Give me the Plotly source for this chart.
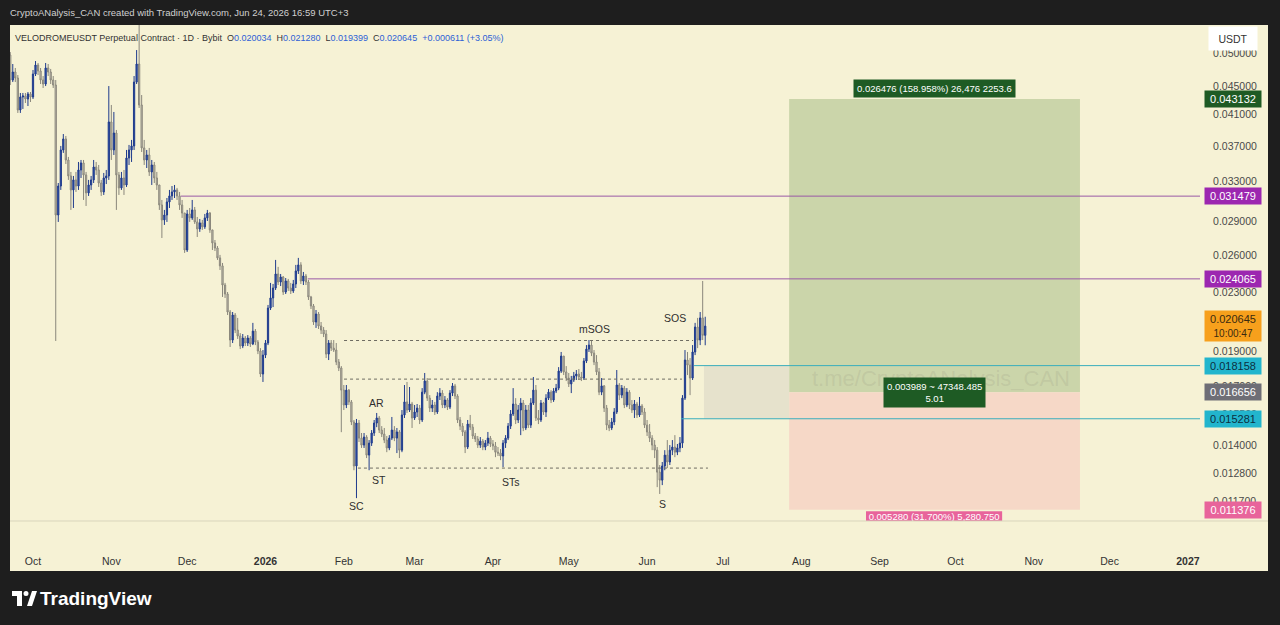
import math
import pandas as pd
import plotly.graph_objects as go

# ---------------- data (prices in 1e-5 USDT units) ----------------
start_date = "2025-09-22"
first_open_e5 = 4977

closes_e5 = [
    4589, 4710, 4619, 4164, 4343, 4357, 4315, 4386, 4343, 4679,
    4818, 4726, 4589, 4530, 4772, 4710, 4589, 4515, 2961, 3253,
    3657, 3790, 3540, 3361, 3212, 3318, 3253, 3427, 3506, 3372,
    3181, 3264, 3318, 3460, 3427, 3285, 3191, 3339, 3361, 4005,
    3657, 3864, 3372, 3233, 3339, 3264, 3563, 3657, 3705, 4559,
    4834, 4232, 3681, 3540, 3598, 3405, 3483, 3339, 3264, 3059,
    2914, 2961, 3089, 3150, 3191, 3212, 3150, 3059, 2980, 2643,
    2971, 2933, 3010, 2895, 2830, 2886, 2849, 2933, 2980, 2821,
    2704, 2660, 2576, 2510, 2359, 2291, 2161, 1973, 2140, 2038,
    1999, 1935, 1986, 1954, 1986, 1948, 2031, 1960, 1904, 1767,
    1879, 1954, 2189, 2262, 2336, 2445, 2382, 2421, 2306, 2390,
    2336, 2314, 2367, 2469, 2518, 2390, 2429, 2382, 2269, 2204,
    2092, 2147, 2065, 2038, 2012, 1885, 1954, 1922, 1910, 1837,
    1802, 1677, 1598, 1677, 1614, 1512, 1311, 1507, 1435, 1403,
    1440, 1358, 1412, 1459, 1507, 1532, 1473, 1454, 1426, 1390,
    1435, 1473, 1435, 1464, 1380, 1547, 1614, 1572, 1603, 1532,
    1562, 1582, 1522, 1666, 1727, 1634, 1582, 1598, 1562, 1645,
    1661, 1598, 1624, 1587, 1661, 1700, 1645, 1522, 1492, 1464,
    1394, 1502, 1487, 1445, 1431, 1403, 1421, 1394, 1412, 1435,
    1408, 1399, 1371, 1367, 1354, 1412, 1435, 1492, 1552, 1603,
    1522, 1572, 1608, 1483, 1572, 1497, 1608, 1677, 1532, 1522,
    1608, 1562, 1634, 1666, 1624, 1672, 1688, 1784, 1873, 1779,
    1744, 1711, 1733, 1756, 1767, 1750, 1744, 1843, 1916, 1941,
    1891, 1837, 1779, 1666, 1700, 1582, 1497, 1483, 1512, 1562,
    1705, 1650, 1688, 1598, 1666, 1598, 1572, 1603, 1547, 1593,
    1562, 1497, 1464, 1435, 1403, 1380, 1285, 1252, 1311, 1358,
    1328, 1380, 1394, 1371, 1390, 1412, 1634, 1849, 1819, 1744,
    1898, 2058, 1973, 2120, 2003.4, 2064.5,
]

highs_e5 = [
    5025, 4834, 4772, 4664, 4400, 4400, 4400, 4414, 4414, 4741,
    4881, 4850, 4772, 4649, 4850, 4834, 4757, 4649, 4589, 3285,
    3705, 3851, 3827, 3575, 3405, 3361, 3405, 3517, 3540, 3540,
    3405, 3318, 3361, 3540, 3517, 3483, 3318, 3394, 3427, 4500,
    4232, 4137, 3902, 3405, 3405, 3427, 3657, 3717, 3778, 4649,
    5058, 5750, 4371, 3778, 3657, 3681, 3540, 3517, 3405, 3264,
    3109, 3010, 3129, 3212, 3253, 3264, 3233, 3191, 3109, 2980,
    3010, 3029, 3109, 3039, 2942, 2923, 2914, 2971, 3010, 2990,
    2821, 2730, 2677, 2601, 2534, 2375, 2306, 2175, 2161, 2154,
    2120, 2018, 2012, 1999, 2005, 1999, 2086, 2045, 1973, 1922,
    1910, 1973, 2211, 2375, 2367, 2559, 2502, 2445, 2429, 2413,
    2406, 2375, 2398, 2518, 2576, 2540, 2461, 2445, 2398, 2277,
    2218, 2175, 2161, 2092, 2058, 2038, 1973, 1973, 1973, 1954,
    1855, 1813, 1705, 1705, 1683, 1624, 1522, 1527, 1522, 1459,
    1459, 1449, 1426, 1473, 1522, 1557, 1542, 1492, 1483, 1445,
    1449, 1537, 1492, 1483, 1473, 1572, 1705, 1722, 1694, 1614,
    1598, 1603, 1598, 1688, 1773, 1744, 1650, 1624, 1614, 1666,
    1688, 1677, 1645, 1634, 1677, 1716, 1711, 1655, 1537, 1507,
    1473, 1522, 1547, 1502, 1459, 1445, 1440, 1431, 1426, 1464,
    1445, 1426, 1417, 1394, 1385, 1426, 1449, 1507, 1572, 1688,
    1634, 1598, 1634, 1624, 1598, 1598, 1634, 1750, 1705, 1572,
    1624, 1614, 1655, 1683, 1677, 1688, 1711, 1807, 1898, 1873,
    1813, 1773, 1756, 1779, 1790, 1796, 1779, 1861, 1941, 1973,
    1967, 1910, 1879, 1802, 1744, 1705, 1598, 1522, 1532, 1582,
    1790, 1716, 1705, 1700, 1688, 1677, 1624, 1624, 1614, 1640,
    1603, 1582, 1522, 1502, 1449, 1426, 1394, 1315, 1328, 1380,
    1426, 1403, 1426, 1449, 1408, 1440, 1650, 1910, 1898, 1861,
    1941, 2086, 2120, 2161, 2390, 2128.0,
]

lows_e5 = [
    4515, 4559, 4559, 4124, 4124, 4178, 4259, 4218, 4273, 4315,
    4649, 4664, 4530, 4472, 4500, 4649, 4530, 4472, 1967, 2895,
    3212, 3622, 3494, 3318, 3010, 3029, 3191, 3212, 3339, 3109,
    3049, 3150, 3212, 3285, 3372, 3243, 3150, 3160, 3274, 3318,
    3540, 3598, 3010, 3160, 3212, 3160, 3243, 3483, 3517, 3657,
    4530, 4191, 3633, 3483, 3449, 3361, 3264, 3285, 3212, 3010,
    2748, 2867, 2895, 3029, 3109, 3129, 3109, 3010, 2933, 2618,
    2626, 2895, 2914, 2876, 2757, 2803, 2821, 2830, 2904, 2794,
    2643, 2634, 2559, 2477, 2269, 2262, 2140, 1929, 1954, 2018,
    1980, 1916, 1922, 1935, 1935, 1929, 1941, 1941, 1885, 1750,
    1722, 1861, 1941, 2175, 2196, 2321, 2359, 2351, 2284, 2291,
    2314, 2291, 2299, 2336, 2445, 2367, 2359, 2359, 2247, 2182,
    2072, 2052, 2045, 2012, 1992, 1861, 1849, 1904, 1898, 1819,
    1784, 1463, 1572, 1582, 1598, 1497, 1293, 1181, 1417, 1390,
    1390, 1345, 1293, 1399, 1445, 1487, 1459, 1440, 1412, 1371,
    1380, 1426, 1421, 1367, 1345, 1371, 1532, 1557, 1562, 1483,
    1522, 1537, 1502, 1512, 1655, 1619, 1562, 1562, 1547, 1552,
    1624, 1582, 1582, 1572, 1577, 1645, 1629, 1507, 1473, 1445,
    1367, 1385, 1473, 1431, 1417, 1390, 1390, 1380, 1380, 1399,
    1394, 1380, 1349, 1354, 1336, 1306, 1390, 1426, 1478, 1542,
    1502, 1507, 1449, 1468, 1473, 1483, 1483, 1598, 1517, 1502,
    1512, 1547, 1537, 1624, 1608, 1614, 1661, 1677, 1773, 1761,
    1727, 1694, 1661, 1722, 1733, 1733, 1727, 1733, 1831, 1898,
    1873, 1819, 1761, 1650, 1650, 1562, 1473, 1468, 1473, 1497,
    1552, 1624, 1634, 1582, 1587, 1577, 1557, 1532, 1532, 1537,
    1547, 1483, 1445, 1417, 1380, 1345, 1224, 1197, 1232, 1293,
    1302, 1315, 1358, 1349, 1358, 1371, 1390, 1624, 1761, 1650,
    1733, 1879, 1922, 1941, 1973, 1939.9,
]

# horizontal levels
level_upper_purple = 0.031479
level_lower_purple = 0.024065
level_cyan_upper = 0.018158
level_cyan_lower = 0.015281
dotted_levels = [0.01970, 0.01738, 0.01302]

# long position tool
pos_target = 0.043132
pos_entry = 0.016656
pos_stop = 0.011376
last_price = 0.020645

price_ticks = [0.050, 0.045, 0.041, 0.037, 0.033, 0.029, 0.026, 0.023,
               0.021, 0.019, 0.017, 0.0155, 0.014, 0.0128, 0.0117]
price_tick_text = [f"{v:.6f}" for v in price_ticks]

month_ticks = ["2025-10-01", "2025-11-01", "2025-12-01", "2026-01-01", "2026-02-01",
               "2026-03-01", "2026-04-01", "2026-05-01", "2026-06-01", "2026-07-01",
               "2026-08-01", "2026-09-01", "2026-10-01", "2026-11-01", "2026-12-01",
               "2027-01-01"]
month_text = ["Oct", "Nov", "Dec", "<b>2026</b>", "Feb", "Mar", "Apr", "May", "Jun",
              "Jul", "Aug", "Sep", "Oct", "Nov", "Dec", "<b>2027</b>"]

wyckoff_labels = ["SC", "ST", "AR", "STs", "mSOS", "SOS", "S"]
wyckoff_dates = ["2026-02-06", "2026-02-15", "2026-02-14", "2026-04-08",
                 "2026-05-11", "2026-06-12", "2026-06-07"]
wyckoff_prices = [0.01151, 0.01252, 0.01608, 0.01244, 0.02045, 0.02120, 0.01158]

# ---------------- build ----------------
closes = [v / 1e5 for v in closes_e5]
highs = [v / 1e5 for v in highs_e5]
lows = [v / 1e5 for v in lows_e5]
opens = [first_open_e5 / 1e5] + closes[:-1]
dates = pd.date_range(start_date, periods=len(closes), freq="D")

FONT = "Liberation Sans, Arial, sans-serif"
CREAM = "#f6f2d5"
DARK = "#1e1e1e"

# pixel helpers for decorations (plot area: x 10..1200, y 25..521)
def px(x):
    return (x - 10) / 1190.0

def py(y):
    return (521 - y) / 496.0

fig = go.Figure()

fig.add_trace(go.Candlestick(
    x=dates, open=opens, high=highs, low=lows, close=closes,
    increasing=dict(line=dict(color="#1f3b8c", width=1), fillcolor="#2c50ad"),
    decreasing=dict(line=dict(color="#8a877c", width=1), fillcolor="#cbc7b7"),
    hoverinfo="skip", showlegend=False,
))

shapes = []
# cream panel incl. price scale and time scale
shapes.append(dict(type="rect", xref="paper", yref="paper", x0=px(10), x1=px(1268),
                   y0=py(571), y1=py(25), fillcolor=CREAM, line=dict(width=0), layer="below"))
# pane separator
shapes.append(dict(type="line", xref="paper", yref="paper", x0=px(10), x1=px(1268),
                   y0=py(521), y1=py(521), line=dict(color="#d9d5bc", width=1)))

# position tool boxes
shapes.append(dict(type="rect", xref="x", yref="y", x0="2026-07-27 05:00", x1="2026-11-19 07:00",
                   y0=pos_entry, y1=pos_target, fillcolor="#cbd5aa", line=dict(width=0), layer="below"))
shapes.append(dict(type="rect", xref="x", yref="y", x0="2026-07-27 05:00", x1="2026-11-19 07:00",
                   y0=pos_stop, y1=pos_entry, fillcolor="#f6d8c7", line=dict(width=0), layer="below"))
# gray range box
shapes.append(dict(type="rect", xref="x", yref="y", x0="2026-06-23 12:00", x1="2026-07-27 05:00",
                   y0=level_cyan_lower, y1=level_cyan_upper, fillcolor="#e6e2cc",
                   line=dict(width=0), layer="below"))
# watermark ring
shapes.append(dict(type="circle", xref="paper", yref="paper", x0=px(835), x1=px(1033),
                   y0=py(349), y1=py(151), line=dict(color="rgba(228,222,165,0.55)", width=7),
                   layer="below"))
shapes.append(dict(type="circle", xref="paper", yref="paper", x0=px(880), x1=px(988),
                   y0=py(304), y1=py(196), line=dict(color="rgba(228,222,165,0.45)", width=2),
                   layer="below"))
# pink stop label background (clipped by pane)
shapes.append(dict(type="rect", xref="x", yref="y", x0="2026-08-26 15:00", x1="2026-10-19 12:00",
                   y0=0.010857, y1=0.01132, fillcolor="#e8649b", line=dict(width=0), layer="below"))

# horizontal lines
far_right = "2027-06-01"
shapes.append(dict(type="line", xref="x", yref="y", x0="2025-11-28 12:00", x1=far_right,
                   y0=level_upper_purple, y1=level_upper_purple, line=dict(color="#9a5aa6", width=1)))
shapes.append(dict(type="line", xref="x", yref="y", x0="2026-01-17 18:00", x1=far_right,
                   y0=level_lower_purple, y1=level_lower_purple, line=dict(color="#9a5aa6", width=1)))
shapes.append(dict(type="line", xref="x", yref="y", x0="2026-06-19 14:00", x1=far_right,
                   y0=level_cyan_upper, y1=level_cyan_upper, line=dict(color="#3aaebc", width=1)))
shapes.append(dict(type="line", xref="x", yref="y", x0="2026-06-14 10:00", x1=far_right,
                   y0=level_cyan_lower, y1=level_cyan_lower, line=dict(color="#3aaebc", width=1)))
dotted_starts = ["2026-02-01 02:00", "2026-02-01 02:00", "2026-02-06 14:00"]
dotted_ends = ["2026-06-19 05:00", "2026-06-14 19:00", "2026-06-25 02:00"]
for lv, a, b in zip(dotted_levels, dotted_starts, dotted_ends):
    shapes.append(dict(type="line", xref="x", yref="y", x0=a, x1=b, y0=lv, y1=lv,
                       line=dict(color="#6e6c62", width=1, dash="dot")))

# TradingView logo mark
shapes.append(dict(type="rect", xref="paper", yref="paper", x0=px(12), x1=px(22), y0=py(596), y1=py(591),
                   fillcolor="#ffffff", line=dict(width=0)))
shapes.append(dict(type="rect", xref="paper", yref="paper", x0=px(17), x1=px(22), y0=py(606), y1=py(591),
                   fillcolor="#ffffff", line=dict(width=0)))
shapes.append(dict(type="circle", xref="paper", yref="paper", x0=px(23.5), x1=px(28.5), y0=py(596), y1=py(591),
                   fillcolor="#ffffff", line=dict(width=0)))
shapes.append(dict(type="path", xref="paper", yref="paper",
                   path=f"M {px(27)} {py(606)} L {px(32)} {py(591)} L {px(37)} {py(591)} L {px(32)} {py(606)} Z",
                   fillcolor="#ffffff", line=dict(width=0)))

# pink label text, clipped to the pane
fig.add_trace(go.Scatter(
    x=["2026-09-22 14:00"], y=[0.01110], mode="text",
    text=["0.005280 (31.700%) 5,280.750"],
    textfont=dict(color="#ffffff", size=9.5, family=FONT),
    cliponaxis=True, hoverinfo="skip", showlegend=False,
))

annotations = []
# header
annotations.append(dict(xref="paper", yref="paper", x=px(8), y=py(12), xanchor="left", yanchor="middle",
                        text="CryptoANalysis_CAN created with TradingView.com, Jun 24, 2026 16:59 UTC+3",
                        showarrow=False, font=dict(color="#d0d0d0", size=9.5, family=FONT)))
# legend
vc = "#2d5fd6"
sp = "\u00a0\u00a0"
legend_text = (
    "VELODROMEUSDT Perpetual Contract \u00b7 1D \u00b7 Bybit" + sp +
    f"O<span style='color:{vc}'>0.020034</span>" + sp +
    f"H<span style='color:{vc}'>0.021280</span>" + sp +
    f"L<span style='color:{vc}'>0.019399</span>" + sp +
    f"C<span style='color:{vc}'>0.020645</span>" + sp +
    f"<span style='color:{vc}'>+0.000611 (+3.05%)</span>"
)
annotations.append(dict(xref="paper", yref="paper", x=px(13), y=py(38), xanchor="left", yanchor="middle",
                        text=legend_text, showarrow=False, font=dict(color="#333333", size=9, family=FONT)))
# USDT box
annotations.append(dict(xref="paper", yref="paper", x=px(1208), y=py(39), xanchor="left", yanchor="middle",
                        text="USDT", showarrow=False, bgcolor="#ffffff", width=42, height=17, borderpad=3,
                        font=dict(color="#333333", size=10.5, family=FONT)))

# price scale labels
axis_labels = [
    (pos_target, "0.043132", "#1e5b24", "#ffffff"),
    (level_upper_purple, "0.031479", "#9c27b0", "#ffffff"),
    (level_lower_purple, "0.024065", "#9c27b0", "#ffffff"),
    (level_cyan_upper, "0.018158", "#22b5cd", "#0c2f3f"),
    (pos_entry, "0.016656", "#6e6e76", "#ffffff"),
    (level_cyan_lower, "0.015281", "#22b5cd", "#0c2f3f"),
    (pos_stop, "0.011376", "#e8649b", "#ffffff"),
]
for price, text, bg, fg in axis_labels:
    annotations.append(dict(xref="paper", yref="y", x=1, y=math.log10(price), xanchor="left",
                            yanchor="middle", xshift=4, text=text, showarrow=False, bgcolor=bg,
                            width=52, borderpad=2, font=dict(color=fg, size=11, family=FONT)))
annotations.append(dict(xref="paper", yref="y", x=1, y=math.log10(last_price), xanchor="left",
                        yanchor="middle", xshift=4,
                        text="0.020645<br><span style='font-size:10px'>10:00:47</span>",
                        showarrow=False, bgcolor="#f7a01c", width=52, borderpad=2,
                        font=dict(color="#3a2a10", size=11, family=FONT)))

# watermark (behind the position labels)
annotations.append(dict(xref="paper", yref="paper", x=px(941), y=py(378), xanchor="center", yanchor="middle",
                        text="t.me/CryptoANalysis_CAN", showarrow=False,
                        font=dict(color="rgba(140,140,120,0.18)", size=22, family=FONT)))

# position tool labels
annotations.append(dict(xref="x", yref="y", x="2026-09-22 14:00", y=math.log10(pos_target),
                        xanchor="center", yanchor="bottom", yshift=1, showarrow=False,
                        text="0.026476 (158.958%) 26,476 2253.6", bgcolor="#1e5b24", borderpad=3,
                        font=dict(color="#ffffff", size=9.5, family=FONT)))
annotations.append(dict(xref="x", yref="y", x="2026-09-22 14:00", y=math.log10(pos_entry),
                        xanchor="center", yanchor="middle", showarrow=False,
                        text="0.003989 ~ 47348.485<br>5.01", bgcolor="#1e5b24", borderpad=3,
                        font=dict(color="#ffffff", size=9.5, family=FONT)))

# Wyckoff labels
for lab, d, p in zip(wyckoff_labels, wyckoff_dates, wyckoff_prices):
    annotations.append(dict(xref="x", yref="y", x=d, y=math.log10(p), xanchor="center", yanchor="middle",
                            text=lab, showarrow=False, font=dict(color="#2e2e2e", size=10.5, family=FONT)))

# TradingView wordmark
annotations.append(dict(xref="paper", yref="paper", x=px(38), y=py(598), xanchor="left", yanchor="middle",
                        text="<b>TradingView</b>", showarrow=False,
                        font=dict(color="#ffffff", size=19, family=FONT)))

fig.update_layout(
    width=1280, height=625,
    margin=dict(l=10, r=80, t=25, b=104),
    paper_bgcolor=DARK, plot_bgcolor=CREAM,
    showlegend=False,
    shapes=shapes, annotations=annotations,
    xaxis=dict(type="date", range=["2025-09-21 21:36", "2027-01-05 19:00"],
               rangeslider=dict(visible=False), tickvals=month_ticks, ticktext=month_text,
               showgrid=False, zeroline=False, showline=False,
               ticks="outside", ticklen=30, tickcolor="rgba(0,0,0,0)",
               tickfont=dict(size=10.5, color="#333333", family=FONT), fixedrange=True),
    yaxis=dict(type="log", side="right", range=[-1.9600, -1.2607],
               tickvals=price_ticks, ticktext=price_tick_text,
               showgrid=False, zeroline=False, showline=False,
               ticks="outside", ticklen=10, tickcolor="rgba(0,0,0,0)",
               tickfont=dict(size=10.5, color="#4a4a4a", family=FONT), fixedrange=True),
)

fig.write_html("out.html", config={"displayModeBar": False})
